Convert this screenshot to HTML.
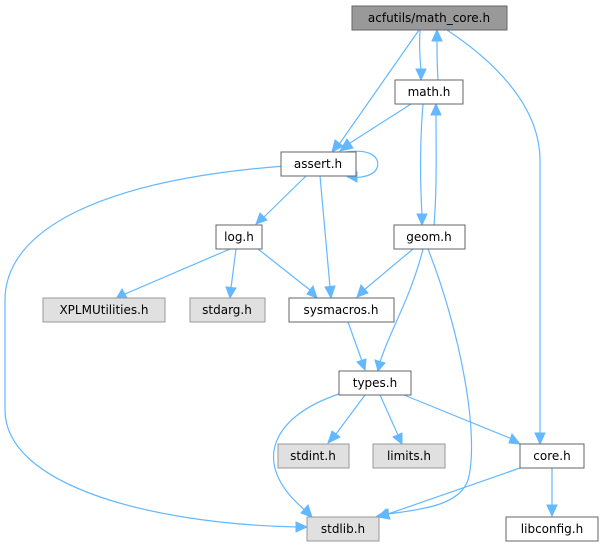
<!DOCTYPE html>
<html><head><meta charset="utf-8"><style>
body{margin:0;background:#fff;width:600px;height:549px;overflow:hidden}
svg{display:block}
text{font-family:"DejaVu Sans","Liberation Sans",sans-serif;font-size:12px;fill:#000;text-anchor:middle}
.e{fill:none;stroke:#63b8ff;stroke-width:1.2}
.a{fill:#63b8ff;stroke:#63b8ff}
</style></head><body>
<svg width="600" height="549" viewBox="0 0 600 549">
<path class="e" d="M420,30 C419,45 420,60 421,70"/><polygon class="a" points="416,69 421,80 426,69"/>
<path class="e" d="M438,80 C437,65 437,50 437,41"/><polygon class="a" points="432,41 437,30 442,41"/>
<path class="e" d="M419,30 L340,143"/><polygon class="a" points="335,140 332,152 343,146"/>
<path class="e" d="M447,30 C500,65 540,110 540,160 L540,435"/><polygon class="a" points="535,433 540,444 545,433"/>
<path class="e" d="M411,104 L350,143"/><polygon class="a" points="347,139 340,151 353,148"/>
<path class="e" d="M423,104 C420,140 420,180 422,216"/><polygon class="a" points="417,214 422,225 427,214"/>
<path class="e" d="M434,225 C437,190 436,150 436,114"/><polygon class="a" points="431,115 436,104 441,115"/>
<path class="e" d="M345,152 C375,148 380,160 377,168 C374,176 360,178 354,177"/><polygon class="a" points="357,172 346,176 357,182"/>
<path class="e" d="M306,176 L264,217"/><polygon class="a" points="260,213 256,224 267,220"/>
<path class="e" d="M320,176 L330,287"/><polygon class="a" points="325,287 331,298 335,286"/>
<path class="e" d="M285,166 C100,180 5,230 5,300 L5,410 C5,485 150,524 298,527"/><polygon class="a" points="296,522 307,527 296,532"/>
<path class="e" d="M230,249 L125,294"/><polygon class="a" points="122,289 116,299 127,298"/>
<path class="e" d="M236,249 L231,288"/><polygon class="a" points="226,287 230,298 236,288"/>
<path class="e" d="M258,249 L310,290"/><polygon class="a" points="307,294 317,298 313,286"/>
<path class="e" d="M413,249 L364,290"/><polygon class="a" points="361,285 357,297 368,293"/>
<path class="e" d="M423,249 C410,300 390,330 380,362"/><polygon class="a" points="375,360 378,371 385,363"/>
<path class="e" d="M428,249 C460,330 480,435 468,480 C460,503 430,509 387,514"/><polygon class="a" points="388,509 377,516 389,519"/>
<path class="e" d="M348,322 L362,361"/><polygon class="a" points="357,362 365,370 366,359"/>
<path class="e" d="M339,394 C270,417 250,465 306,511"/><polygon class="a" points="301,513 312,517 308,505"/>
<path class="e" d="M365,395 L336,434"/><polygon class="a" points="332,431 328,443 340,437"/>
<path class="e" d="M380,395 L398,435"/><polygon class="a" points="393,437 402,444 402,433"/>
<path class="e" d="M404,395 L512,439"/><polygon class="a" points="509,443 520,444 512,434"/>
<path class="e" d="M520,468 L388,514"/><polygon class="a" points="386,509 378,517 390,519"/>
<path class="e" d="M552,468 L552,506"/><polygon class="a" points="547,505 552,516 557,505"/>
<rect x="352" y="6" width="155" height="24" fill="#999" stroke="#666"/><text x="429" y="22">acfutils/math_core.h</text>
<rect x="395" y="80" width="68" height="24" fill="#fff" stroke="#666"/><text x="429" y="96">math.h</text>
<rect x="281" y="152" width="75" height="24" fill="#fff" stroke="#666"/><text x="318" y="168">assert.h</text>
<rect x="216" y="225" width="46" height="24" fill="#fff" stroke="#666"/><text x="239" y="241">log.h</text>
<rect x="394" y="225" width="71" height="24" fill="#fff" stroke="#666"/><text x="429" y="241">geom.h</text>
<rect x="43" y="298" width="122" height="24" fill="#e0e0e0" stroke="#999"/><text x="104" y="314">XPLMUtilities.h</text>
<rect x="190" y="298" width="75" height="24" fill="#e0e0e0" stroke="#999"/><text x="227" y="314">stdarg.h</text>
<rect x="289" y="298" width="105" height="24" fill="#fff" stroke="#666"/><text x="341" y="314">sysmacros.h</text>
<rect x="339" y="371" width="72" height="24" fill="#fff" stroke="#666"/><text x="375" y="387">types.h</text>
<rect x="278" y="444" width="71" height="24" fill="#e0e0e0" stroke="#999"/><text x="313" y="460">stdint.h</text>
<rect x="373" y="444" width="72" height="24" fill="#e0e0e0" stroke="#999"/><text x="409" y="460">limits.h</text>
<rect x="520" y="444" width="64" height="24" fill="#fff" stroke="#666"/><text x="552" y="460">core.h</text>
<rect x="307" y="517" width="72" height="24" fill="#e0e0e0" stroke="#999"/><text x="343" y="533">stdlib.h</text>
<rect x="506" y="517" width="92" height="24" fill="#fff" stroke="#666"/><text x="552" y="533">libconfig.h</text>
</svg>
</body></html>
